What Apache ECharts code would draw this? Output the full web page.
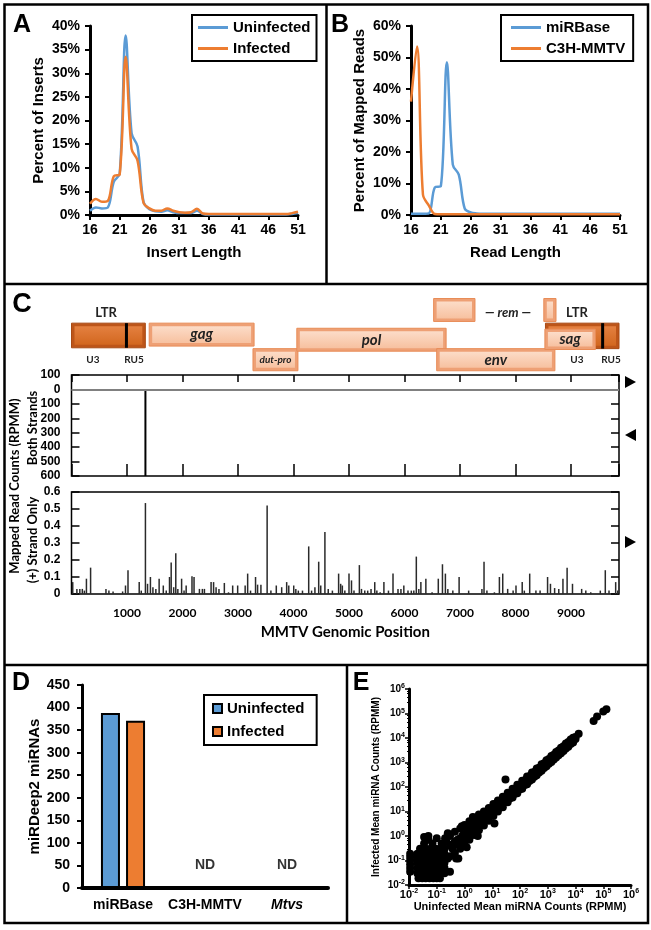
<!DOCTYPE html>
<html>
<head>
<meta charset="utf-8">
<title>MMTV small RNA figure</title>
<script src="https://cdn.jsdelivr.net/npm/echarts/dist/echarts.min.js"></script>
<style>
  html, body { margin: 0; padding: 0; background: #fff; }
  #main { width: 651px; height: 930px; }
</style>
</head>
<body>
<div id="main"></div>
<script>
var ARIAL = '"Liberation Sans", Arial, sans-serif';
var CALIBRI = 'Lato, "Open Sans", sans-serif';
var BLUE = '#5b9bd5';
var ORANGE = '#ed7d31';

// ---- A: insert length distribution
var insertLength = [16, 17, 18, 19, 20, 21, 22, 23, 24, 25, 26, 27, 28, 29, 30, 31, 32, 33, 34, 35,
  36, 37, 38, 39, 40, 41, 42, 43, 44, 45, 46, 47, 48, 49, 50, 51];
var aUninfected = [0.9, 1.6, 1.4, 1.6, 7.0, 8.8, 38.0, 17.3, 14.5, 2.8, 1.2, 0.8, 0.7, 1.0, 0.6, 0.4, 0.4, 0.4, 0.9, 0.2,
  0.1, 0.1, 0.1, 0.1, 0.1, 0.1, 0.1, 0.1, 0.1, 0.1, 0.1, 0.1, 0.1, 0.1, 0.2, 0.4];
var aInfected = [2.4, 3.4, 2.8, 3.0, 8.2, 8.6, 33.5, 14.0, 11.5, 2.6, 1.4, 0.9, 0.9, 1.4, 0.9, 0.6, 0.5, 0.6, 1.3, 0.3,
  0.2, 0.2, 0.2, 0.2, 0.2, 0.2, 0.2, 0.2, 0.2, 0.2, 0.2, 0.2, 0.2, 0.2, 0.4, 0.7];

// ---- B: read length of mapped reads
var readLength = insertLength;
var bMirbase = [0.4, 0.4, 0.4, 0.5, 8.8, 9.2, 48.5, 16.0, 12.8, 2.0, 0.8, 0.5, 0.4, 0.4, 0.4, 0.4, 0.4, 0.4, 0.4, 0.4,
  0.4, 0.4, 0.4, 0.4, 0.4, 0.4, 0.4, 0.4, 0.4, 0.4, 0.4, 0.4, 0.4, 0.4, 0.4, 0.4];
var bC3h = [36.0, 53.5, 6.5, 3.0, 0.3, 0.2, 0.2, 0.2, 0.2, 0.2, 0.2, 0.2, 0.2, 0.2, 0.2, 0.2, 0.2, 0.2, 0.2, 0.2,
  0.2, 0.2, 0.2, 0.2, 0.2, 0.2, 0.2, 0.2, 0.2, 0.2, 0.2, 0.2, 0.2, 0.2, 0.2, 0.2];

// ---- C: MMTV genome map (lanes: 0 top .. 10 bottom of the map strip)
var genomeLength = 9865;
var geneLabel = ['', 'gag', 'dut-pro', 'pol', 'env', '', '', '', 'sag'];
var geneKind = ['ltr', 'orf', 'orf', 'orf', 'orf', 'orf', 'orf', 'ltr', 'orf'];
var geneStart = [0, 1400, 3270, 4060, 6580, 6525, 8510, 8540, 8530];
var geneEnd = [1330, 3290, 4080, 6750, 8710, 7270, 8730, 9865, 9440];
var geneTop = [3.9, 3.9, 6.9, 4.5, 6.9, 1.0, 1.0, 3.9, 4.6];
var geneBottom = [6.8, 6.6, 9.5, 7.2, 9.5, 3.7, 3.7, 6.9, 7.0];
var geneJunction = [990, null, null, null, null, null, null, 9570, null];

var mapText = ['LTR', 'U3', 'RU5', 'LTR', 'U3', 'RU5', '\u2014 rem \u2014'];
var mapTextPos = [622, 387, 1126, 9108, 9108, 9721, 7865];
var mapTextLane = [2.7, 8.2, 8.2, 2.7, 8.2, 8.2, 2.7];
var mapTextSize = [13, 10, 10, 13, 10, 10, 13];
var mapTextItalic = [false, false, false, false, false, false, true];

// both strands (negative = minus strand)
var bothPos = [1332];
var bothVal = [-600];

// (+) strand only
var plusPos = [22, 97, 150, 195, 232, 269, 344, 621, 674, 749, 921, 973, 1018, 1220, 1257, 1332, 1370, 1422, 1467, 1520,
  1579, 1654, 1707, 1766, 1796, 1841, 1879, 1916, 1984, 2028, 2066, 2171, 2208, 2305, 2358, 2395, 2515, 2560, 2605, 2657,
  2754, 2829, 2904, 2994, 3129, 3174, 3226, 3316, 3353, 3413, 3525, 3593, 3690, 3787, 3877, 3915, 4004, 4042, 4087, 4162,
  4274, 4326, 4386, 4454, 4491, 4566, 4626, 4701, 4813, 4850, 4880, 4925, 5000, 5045, 5090, 5187, 5225, 5284, 5337, 5397,
  5464, 5502, 5561, 5629, 5711, 5793, 5883, 5936, 5988, 6063, 6123, 6168, 6213, 6258, 6295, 6385, 6497, 6609, 6684, 6737,
  6781, 6871, 6984, 7156, 7395, 7433, 7485, 7620, 7710, 7770, 7859, 7957, 8009, 8121, 8159, 8256, 8368, 8443, 8578, 8630,
  8705, 8780, 8855, 8930, 9027, 9192, 9267, 9356, 9528, 9618, 9685, 9805, 9843];
var plusVal = [0.07, 0.03, 0.03, 0.03, 0.02, 0.09, 0.155, 0.03, 0.02, 0.015, 0.015, 0.05, 0.14, 0.07, 0.02, 0.535, 0.06, 0.1, 0.04, 0.03,
  0.09, 0.05, 0.02, 0.1, 0.185, 0.04, 0.24, 0.03, 0.09, 0.02, 0.05, 0.105, 0.1, 0.03, 0.03, 0.03, 0.07, 0.07, 0.04, 0.03,
  0.065, 0.01, 0.05, 0.05, 0.05, 0.12, 0.02, 0.1, 0.055, 0.055, 0.52, 0.02, 0.05, 0.04, 0.07, 0.05, 0.05, 0.03, 0.02, 0.02,
  0.28, 0.02, 0.04, 0.19, 0.05, 0.365, 0.03, 0.02, 0.12, 0.06, 0.05, 0.02, 0.12, 0.08, 0.02, 0.17, 0.03, 0.02, 0.02, 0.03,
  0.07, 0.02, 0.01, 0.07, 0.02, 0.12, 0.03, 0.03, 0.05, 0.02, 0.02, 0.02, 0.22, 0.03, 0.07, 0.09, 0.01, 0.09, 0.175, 0.12,
  0.03, 0.02, 0.1, 0.02, 0.03, 0.19, 0.02, 0.01, 0.1, 0.12, 0.03, 0.02, 0.05, 0.07, 0.02, 0.12, 0.02, 0.02, 0.1, 0.06,
  0.035, 0.03, 0.09, 0.155, 0.06, 0.03, 0.02, 0.01, 0.02, 0.14, 0.02, 0.07, 0.02];

// ---- D: miRDeep2 miRNAs
var dCategories = ['miRBase', 'C3H-MMTV', 'Mtvs'];
var dUninfected = [388, null, null];
var dInfected = [371, null, null];
var ndCategory = ['C3H-MMTV', 'Mtvs'];
var ndLevel = [50, 50];

// ---- E: mean miRNA counts (RPMM)
var eUninfected = [
  0.011, 0.011, 0.011, 0.011, 0.011, 0.011,
  0.022, 0.03, 0.04, 0.055, 0.075, 0.1, 0.13,
  0.02, 0.02, 0.02, 0.02, 0.02, 0.03, 0.03, 0.03, 0.03, 0.03, 0.045, 0.045, 0.045, 0.045, 0.045,
  0.065, 0.065, 0.065, 0.065, 0.065, 0.09, 0.09, 0.09, 0.09, 0.09, 0.13, 0.13, 0.13, 0.13, 0.13,
  0.19, 0.19, 0.19, 0.19, 0.19,
  0.025, 0.04, 0.06, 0.09, 0.13, 0.19, 0.035, 0.05, 0.07, 0.1, 0.15, 0.22, 0.05, 0.035, 0.3,
  0.3, 0.3, 0.3, 0.45, 0.45, 0.45, 0.7, 0.7, 0.7, 1.0, 1.0, 1.0, 1.5, 1.5, 1.5, 2.2, 2.2, 2.2,
  3.3, 3.3, 3.3, 5, 5, 5, 7.5, 7.5, 7.5, 11, 11, 11, 16, 16, 16, 24, 24, 24, 36, 36, 36,
  54, 54, 54, 80, 80, 80, 120, 120, 120, 180, 180, 180, 270, 270, 270, 400, 400, 400,
  600, 600, 600, 900, 900, 900, 1350, 1350, 1350, 2000, 2000, 2000, 3000, 3000, 3000,
  4500, 4500, 4500, 6700, 6700, 6700, 10000, 10000, 13000,
  0.37, 0.37, 0.56, 0.56, 0.85, 0.85, 1.25, 1.25, 1.8, 1.8, 2.7, 2.7, 4, 4, 6, 6, 9, 9, 13, 13,
  20, 20, 30, 30, 44, 44, 66, 66, 100, 100, 150, 150, 220, 220, 330, 330, 490, 490, 740, 740,
  1100, 1100, 1650, 1650, 2450, 2450, 3700, 3700, 5500, 5500, 8200, 8200,
  0.5, 0.8, 1.2, 2, 3, 0.25, 0.6, 0.2, 0.15, 0.25,
  45000, 60000, 100000, 130000,
  12, 30
];
var eInfected = [
  0.035, 0.05, 0.07, 0.1, 0.14, 0.19,
  0.019, 0.019, 0.019, 0.019, 0.019, 0.019, 0.019,
  0.03, 0.05, 0.08, 0.12, 0.19, 0.03, 0.05, 0.08, 0.12, 0.19, 0.03, 0.05, 0.08, 0.12, 0.19,
  0.03, 0.05, 0.08, 0.12, 0.19, 0.03, 0.05, 0.08, 0.12, 0.19, 0.03, 0.05, 0.08, 0.12, 0.19,
  0.03, 0.05, 0.08, 0.12, 0.19,
  0.3, 0.3, 0.3, 0.3, 0.3, 0.3, 0.5, 0.7, 0.5, 0.8, 0.5, 0.6, 1.0, 0.9, 0.035,
  0.15, 0.4, 1.0, 0.2, 0.6, 1.5, 0.3, 0.8, 2.0, 0.45, 1.2, 2.8, 0.7, 1.8, 4, 1.1, 2.6, 5.5,
  1.7, 3.8, 7.5, 2.7, 5.5, 10, 4.2, 8, 14, 6.5, 12, 20, 10, 17, 28, 15, 26, 40, 24, 38, 58,
  37, 56, 85, 56, 85, 125, 85, 125, 180, 130, 190, 270, 200, 280, 390, 300, 420, 570,
  460, 630, 850, 700, 950, 1250, 1050, 1400, 1850, 1600, 2100, 2700, 2400, 3100, 4000,
  3700, 4700, 5900, 5700, 7000, 8700, 9000, 11000, 15000,
  0.3, 0.46, 0.45, 0.7, 0.68, 1.06, 1.0, 1.56, 1.44, 2.25, 2.16, 3.4, 3.2, 5, 4.8, 7.5, 7.2, 11, 10.4, 16,
  16, 25, 24, 37, 35, 55, 53, 82, 80, 125, 120, 188, 176, 275, 264, 410, 392, 610, 590, 925,
  880, 1375, 1320, 2060, 1960, 3060, 2960, 4620, 4400, 6900, 6560, 10250,
  0.12, 2.5, 0.35, 6, 1.0, 1.3, 0.12, 0.8, 0.15, 0.12,
  50000, 75000, 120000, 150000,
  3.2, 200
];

function pairs(xs, ys) {
  return xs.map(function (x, i) { return [x, ys[i]]; });
}

function boldText(size, family) {
  return { color: '#000', fontSize: size, fontWeight: 'bold', fontFamily: family || ARIAL };
}

function excelAxis(extra) {
  var base = {
    type: 'value',
    axisLine: { show: true, onZero: false, lineStyle: { color: '#000', width: 3 } },
    axisTick: { show: true, length: 5, lineStyle: { color: '#000', width: 2 } },
    axisLabel: boldText(14),
    splitLine: { show: false },
    nameLocation: 'middle',
    nameTextStyle: boldText(15)
  };
  return Object.assign(base, extra);
}

function drawGene(params, api) {
  var i = params.dataIndex;
  var a = api.coord([api.value(0), api.value(2)]);
  var b = api.coord([api.value(1), api.value(3)]);
  var w = b[0] - a[0];
  var h = b[1] - a[1];
  var ltr = geneKind[i] === 'ltr';
  var kids = [
    {
      type: 'rect',
      shape: { x: a[0], y: a[1], width: w, height: h },
      style: { fill: ltr ? '#bd5519' : '#eea075', stroke: ltr ? '#a84a14' : '#e88c57', lineWidth: 1 }
    },
    {
      type: 'rect',
      shape: { x: a[0] + 3, y: a[1] + 3, width: Math.max(w - 6, 1), height: h - 6 },
      style: {
        fill: new echarts.graphic.LinearGradient(0, 0, 0, 1, [
          { offset: 0, color: ltr ? '#e48040' : '#fcdcc8' },
          { offset: 1, color: ltr ? '#d2671f' : '#f7c1a0' }
        ])
      }
    }
  ];
  if (geneJunction[i] != null) {
    var j = api.coord([geneJunction[i], api.value(2)]);
    kids.push({
      type: 'line',
      shape: { x1: j[0], y1: a[1], x2: j[0], y2: b[1] },
      style: { stroke: '#000', lineWidth: 3 }
    });
  }
  if (geneLabel[i]) {
    var small = geneLabel[i] === 'dut-pro';
    kids.push({
      type: 'text',
      x: (a[0] + b[0]) / 2,
      y: (a[1] + b[1]) / 2,
      style: {
        text: geneLabel[i], fill: '#222', align: 'center', verticalAlign: 'middle',
        fontStyle: 'italic', fontWeight: 'bold', fontSize: small ? 10 : 15, fontFamily: CALIBRI
      }
    });
  }
  return { type: 'group', children: kids };
}

function drawMapText(params, api) {
  var i = params.dataIndex;
  var p = api.coord([api.value(0), api.value(1)]);
  return {
    type: 'text',
    x: p[0],
    y: p[1],
    style: {
      text: mapText[i], fill: '#222', align: 'center', verticalAlign: 'middle',
      fontStyle: mapTextItalic[i] ? 'italic' : 'normal', fontWeight: 'bold',
      fontSize: mapTextSize[i], fontFamily: CALIBRI
    }
  };
}

function powLabel(v) {
  var e = Math.round(Math.log10(v));
  return '{b|10}{s|' + e + '}';
}

var chart = echarts.init(document.getElementById('main'), null, { renderer: 'canvas' });

var C_LEFT = 71.5, C_WIDTH = 547.5;
var cTick = { show: true, inside: true, length: 8, lineStyle: { color: '#000', width: 1.5 } };

var option = {
  animation: false,
  backgroundColor: '#fff',
  grid: [
    { left: 90, top: 26, width: 208, height: 189 },
    { left: 411, top: 26, width: 209, height: 189 },
    { left: C_LEFT, top: 290, width: C_WIDTH, height: 85 },
    { left: C_LEFT, top: 375, width: C_WIDTH, height: 101, show: true, borderColor: '#000', borderWidth: 1.5 },
    { left: C_LEFT, top: 492, width: C_WIDTH, height: 102, show: true, borderColor: '#000', borderWidth: 1.5 },
    { left: 82, top: 685, width: 246, height: 203 },
    { left: 409, top: 689, width: 222, height: 196 }
  ],
  xAxis: [
    excelAxis({ gridIndex: 0, min: 16, max: 51, interval: 5, name: 'Insert Length', nameGap: 30 }),
    excelAxis({ gridIndex: 1, min: 16, max: 51, interval: 5, name: 'Read Length', nameGap: 30 }),
    { gridIndex: 2, type: 'value', min: 0, max: genomeLength, show: false },
    {
      gridIndex: 3, type: 'value', min: 0, max: genomeLength, interval: 1000, position: 'bottom',
      axisLine: { show: false, onZero: false }, axisTick: Object.assign({}, cTick, { length: 12 }),
      axisLabel: { show: false }, splitLine: { show: false }
    },
    {
      gridIndex: 3, type: 'value', min: 0, max: genomeLength, interval: 1000, position: 'top',
      axisLine: { show: false, onZero: false }, axisTick: Object.assign({}, cTick, { length: 7 }),
      axisLabel: { show: false }, splitLine: { show: false }
    },
    {
      gridIndex: 4, type: 'value', min: 0, max: genomeLength, interval: 1000,
      axisLine: { show: false, onZero: false }, axisTick: { show: false }, splitLine: { show: false },
      axisLabel: Object.assign(boldText(12, CALIBRI), {
        margin: 13,
        formatter: function (v) { return (v > 0 && v % 1000 === 0) ? String(v) : ''; }
      }),
      name: 'MMTV Genomic Position', nameLocation: 'middle', nameGap: 31,
      nameTextStyle: boldText(15, CALIBRI)
    },
    {
      gridIndex: 5, type: 'category', data: dCategories,
      axisLine: { show: true, lineStyle: { color: '#000', width: 4 } },
      axisTick: { show: false },
      axisLabel: Object.assign(boldText(14), {
        margin: 10, interval: 0, hideOverlap: false,
        formatter: function (v) { return v === 'Mtvs' ? '{i|' + v + '}' : v; },
        rich: { i: { fontStyle: 'italic', fontWeight: 'bold', fontSize: 14, fontFamily: ARIAL, color: '#000' } }
      })
    },
    {
      gridIndex: 6, type: 'log', logBase: 10, min: 0.01, max: 1e6, splitNumber: 8,
      axisLine: { show: true, onZero: false, lineStyle: { color: '#000', width: 3 } },
      axisTick: { show: true, length: 4, lineStyle: { color: '#000', width: 1.5 } },
      minorTick: { show: true, splitNumber: 5, length: 2, lineStyle: { color: '#000', width: 1 } },
      splitLine: { show: false },
      axisLabel: {
        margin: 3, formatter: powLabel,
        rich: {
          b: { fontSize: 11, fontWeight: 'bold', fontFamily: ARIAL, color: '#000', lineHeight: 14 },
          s: { fontSize: 7, fontWeight: 'bold', fontFamily: ARIAL, color: '#000', verticalAlign: 'top', lineHeight: 14 }
        }
      },
      name: 'Uninfected Mean miRNA Counts (RPMM)', nameLocation: 'middle', nameGap: 14,
      nameTextStyle: boldText(11)
    }
  ],
  yAxis: [
    excelAxis({ gridIndex: 0, min: 0, max: 40, interval: 5, name: 'Percent of Inserts', nameGap: 44,
      axisLabel: Object.assign(boldText(14), { margin: 10, formatter: '{value}%' }) }),
    excelAxis({ gridIndex: 1, min: 0, max: 60, interval: 10, name: 'Percent of Mapped Reads', nameGap: 44,
      axisLabel: Object.assign(boldText(14), { margin: 10, formatter: '{value}%' }) }),
    { gridIndex: 2, type: 'value', min: 0, max: 10, inverse: true, show: false },
    {
      gridIndex: 3, type: 'value', min: -600, max: 100, interval: 100,
      axisLine: { show: false, onZero: false }, axisTick: cTick, splitLine: { show: false },
      axisLabel: Object.assign(boldText(12), { margin: 11, formatter: function (v) { return String(Math.abs(v)); } })
    },
    {
      gridIndex: 3, type: 'value', min: -600, max: 100, interval: 100, position: 'right',
      axisLine: { show: false, onZero: false }, axisTick: cTick, axisLabel: { show: false }, splitLine: { show: false }
    },
    {
      gridIndex: 4, type: 'value', min: 0, max: 0.6, interval: 0.1,
      axisLine: { show: false, onZero: false }, axisTick: cTick, splitLine: { show: false },
      axisLabel: Object.assign(boldText(12), { margin: 11, formatter: function (v) { return v === 0 ? '0' : v.toFixed(1); } })
    },
    {
      gridIndex: 4, type: 'value', min: 0, max: 0.6, interval: 0.1, position: 'right',
      axisLine: { show: false, onZero: false }, axisTick: cTick, axisLabel: { show: false }, splitLine: { show: false }
    },
    excelAxis({ gridIndex: 5, min: 0, max: 450, interval: 50, name: 'miRDeep2 miRNAs', nameGap: 39,
      axisLabel: Object.assign(boldText(14), { margin: 12 }) }),
    {
      gridIndex: 6, type: 'log', logBase: 10, min: 0.01, max: 1e6, splitNumber: 8,
      axisLine: { show: true, onZero: false, lineStyle: { color: '#000', width: 3 } },
      axisTick: { show: true, length: 4, lineStyle: { color: '#000', width: 1.5 } },
      minorTick: { show: true, splitNumber: 5, length: 2, lineStyle: { color: '#000', width: 1 } },
      splitLine: { show: false },
      axisLabel: {
        margin: 4, formatter: powLabel,
        rich: {
          b: { fontSize: 10, fontWeight: 'bold', fontFamily: ARIAL, color: '#000', lineHeight: 12 },
          s: { fontSize: 7, fontWeight: 'bold', fontFamily: ARIAL, color: '#000', verticalAlign: 'top', lineHeight: 12 }
        }
      },
      name: 'Infected Mean miRNA Counts (RPMM)', nameLocation: 'middle', nameGap: 28,
      nameTextStyle: boldText(10)
    }
  ],
  legend: [
    {
      left: 192, top: 15, orient: 'vertical', padding: [5, 6, 5, 6], itemGap: 6,
      itemWidth: 30, itemHeight: 3, icon: 'rect', borderColor: '#000', borderWidth: 2,
      textStyle: boldText(15), data: ['Uninfected', 'Infected']
    },
    {
      left: 501, top: 15, orient: 'vertical', padding: [5, 8, 5, 10], itemGap: 6,
      itemWidth: 30, itemHeight: 3, icon: 'rect', borderColor: '#000', borderWidth: 2,
      textStyle: boldText(15), data: ['miRBase', 'C3H-MMTV']
    },
    {
      left: 204, top: 695, orient: 'vertical', padding: [6, 8, 6, 8], itemGap: 8,
      itemWidth: 9, itemHeight: 9, icon: 'rect', borderColor: '#000', borderWidth: 2,
      textStyle: boldText(15), data: ['Uninfected ', 'Infected ']
    }
  ],
  series: [
    {
      name: 'Uninfected', type: 'line', xAxisIndex: 0, yAxisIndex: 0, smooth: 0.35, showSymbol: false,
      color: BLUE, lineStyle: { width: 2.5 }, data: pairs(insertLength, aUninfected)
    },
    {
      name: 'Infected', type: 'line', xAxisIndex: 0, yAxisIndex: 0, smooth: 0.35, showSymbol: false,
      color: ORANGE, lineStyle: { width: 2.5 }, data: pairs(insertLength, aInfected)
    },
    {
      name: 'miRBase', type: 'line', xAxisIndex: 1, yAxisIndex: 1, smooth: 0.35, showSymbol: false,
      color: BLUE, lineStyle: { width: 2.5 }, data: pairs(readLength, bMirbase)
    },
    {
      name: 'C3H-MMTV', type: 'line', xAxisIndex: 1, yAxisIndex: 1, smooth: 0.35, showSymbol: false,
      color: ORANGE, lineStyle: { width: 2.5 }, data: pairs(readLength, bC3h)
    },
    {
      type: 'custom', xAxisIndex: 2, yAxisIndex: 2, renderItem: drawGene, silent: true,
      encode: { x: [0, 1], y: [2, 3] },
      data: geneStart.map(function (s, i) { return [s, geneEnd[i], geneTop[i], geneBottom[i]]; })
    },
    {
      type: 'custom', xAxisIndex: 2, yAxisIndex: 2, renderItem: drawMapText, silent: true,
      data: pairs(mapTextPos, mapTextLane)
    },
    {
      type: 'bar', xAxisIndex: 3, yAxisIndex: 3, barWidth: 2, color: '#000',
      data: pairs(bothPos, bothVal),
      markLine: {
        silent: true, symbol: 'none', label: { show: false },
        lineStyle: { color: '#808080', width: 2, type: 'solid' },
        data: [{ yAxis: 0 }]
      }
    },
    {
      type: 'bar', xAxisIndex: 5, yAxisIndex: 5, barWidth: 1.5, color: '#2a2a2a',
      data: pairs(plusPos, plusVal)
    },
    {
      name: 'Uninfected ', type: 'bar', xAxisIndex: 6, yAxisIndex: 7, barWidth: 19, barGap: '32%',
      itemStyle: { color: BLUE, borderColor: '#000', borderWidth: 2 }, data: dUninfected
    },
    {
      name: 'Infected ', type: 'bar', xAxisIndex: 6, yAxisIndex: 7, barWidth: 19, barGap: '32%',
      itemStyle: { color: ORANGE, borderColor: '#000', borderWidth: 2 }, data: dInfected
    },
    {
      type: 'scatter', xAxisIndex: 6, yAxisIndex: 7, symbolSize: 1, itemStyle: { color: 'rgba(0,0,0,0)' },
      label: { show: true, position: 'inside', formatter: 'ND', color: '#000', fontSize: 14, fontWeight: 'bold', fontFamily: ARIAL },
      data: pairs(ndCategory, ndLevel)
    },
    {
      type: 'scatter', xAxisIndex: 7, yAxisIndex: 8, symbolSize: 8, itemStyle: { color: '#000', opacity: 1 },
      data: pairs(eUninfected, eInfected)
    }
  ],
  graphic: [
    // panel frames
    { type: 'rect', shape: { x: 4.5, y: 4.5, width: 643.5, height: 918.5 }, style: { fill: 'none', stroke: '#000', lineWidth: 2.5 }, silent: true },
    { type: 'line', shape: { x1: 326.5, y1: 4.5, x2: 326.5, y2: 284 }, style: { stroke: '#000', lineWidth: 2.5 }, silent: true },
    { type: 'line', shape: { x1: 4.5, y1: 284, x2: 648, y2: 284 }, style: { stroke: '#000', lineWidth: 2.5 }, silent: true },
    { type: 'line', shape: { x1: 4.5, y1: 665, x2: 648, y2: 665 }, style: { stroke: '#000', lineWidth: 2.5 }, silent: true },
    { type: 'line', shape: { x1: 347, y1: 665, x2: 347, y2: 923 }, style: { stroke: '#000', lineWidth: 2.5 }, silent: true },
    // panel letters
    { type: 'text', x: 22, y: 25, style: { text: 'A', font: 'bold 25px ' + ARIAL, fill: '#000', align: 'center', verticalAlign: 'middle' } },
    { type: 'text', x: 340, y: 25, style: { text: 'B', font: 'bold 25px ' + ARIAL, fill: '#000', align: 'center', verticalAlign: 'middle' } },
    { type: 'text', x: 22, y: 305, style: { text: 'C', font: 'bold 27px ' + ARIAL, fill: '#000', align: 'center', verticalAlign: 'middle' } },
    { type: 'text', x: 21, y: 683, style: { text: 'D', font: 'bold 25px ' + ARIAL, fill: '#000', align: 'center', verticalAlign: 'middle' } },
    { type: 'text', x: 361, y: 683, style: { text: 'E', font: 'bold 25px ' + ARIAL, fill: '#000', align: 'center', verticalAlign: 'middle' } },
    // panel C axis titles
    { type: 'text', x: 15, y: 486, rotation: Math.PI / 2, style: { text: 'Mapped Read Counts (RPMM)', font: 'bold 13px ' + CALIBRI, fill: '#000', align: 'center', verticalAlign: 'middle' } },
    { type: 'text', x: 33, y: 428, rotation: Math.PI / 2, style: { text: 'Both Strands', font: 'bold 13px ' + CALIBRI, fill: '#000', align: 'center', verticalAlign: 'middle' } },
    { type: 'text', x: 33, y: 540, rotation: Math.PI / 2, style: { text: '(+) Strand Only', font: 'bold 13px ' + CALIBRI, fill: '#000', align: 'center', verticalAlign: 'middle' } },
    // strand arrows
    { type: 'polygon', shape: { points: [[625, 376], [636, 382], [625, 388]] }, style: { fill: '#000' }, silent: true },
    { type: 'polygon', shape: { points: [[636, 429], [625, 435], [636, 441]] }, style: { fill: '#000' }, silent: true },
    { type: 'polygon', shape: { points: [[625, 536], [636, 542], [625, 548]] }, style: { fill: '#000' }, silent: true }
  ]
};

chart.setOption(option);
</script>
</body>
</html>
